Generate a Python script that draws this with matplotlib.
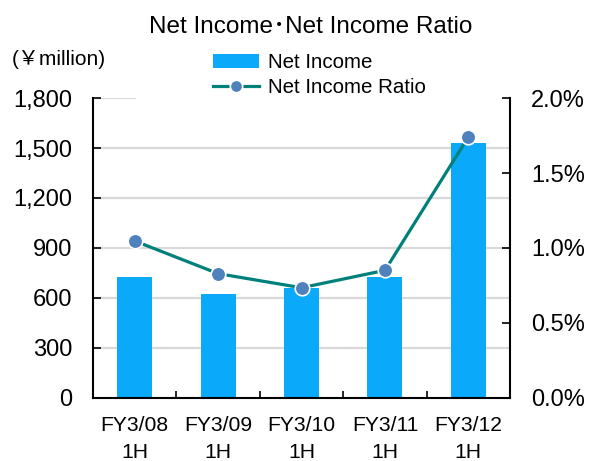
import matplotlib
matplotlib.use("Agg")
import matplotlib.pyplot as plt
from matplotlib.ticker import FuncFormatter, FixedLocator

plt.rcParams['font.family'] = ['Liberation Sans', 'Noto Sans CJK JP', 'DejaVu Sans']

periods = ["FY3/08\n1H", "FY3/09\n1H", "FY3/10\n1H", "FY3/11\n1H", "FY3/12\n1H"]
net_income = [728, 624, 662, 728, 1530]          # ¥ million
income_ratio = [1.047, 0.829, 0.735, 0.851, 1.74]  # %

bar_color = "#0BA9F9"
line_color = "#00807A"
marker_color = "#4F81BD"

fig = plt.figure(figsize=(5.89, 4.61), dpi=100)
ax1 = fig.add_axes([0.158, 0.1367, 0.708, 0.6507])
ax2 = ax1.twinx()

x = list(range(len(periods)))
bars = ax1.bar(x, net_income, width=0.42, color=bar_color, zorder=2, label="Net Income")
ax1.set_xlim(-0.5, len(periods) - 0.5)
ax1.set_ylim(0, 1800)
ax1.set_yticks(range(0, 1801, 300))
ax1.yaxis.set_major_formatter(FuncFormatter(lambda v, _: f"{int(v):,}"))
for v in range(300, 1800, 300):
    ax1.axhline(v, color="#D9D9D9", lw=1.6, zorder=1)
ax1.axhline(1800, xmin=0, xmax=0.1, color="#D9D9D9", lw=1.6, zorder=1)

ax1.set_xticks(x)
ax1.set_xticklabels(periods, fontsize=15.2, linespacing=1.55)
ax1.xaxis.set_minor_locator(FixedLocator([i - 0.5 for i in range(len(periods) + 1)]))
ax1.tick_params(axis="x", which="major", length=0, pad=13)
ax1.tick_params(axis="x", which="minor", direction="in", length=5, width=1.2)
ax1.tick_params(axis="y", direction="in", length=6, width=1.2, labelsize=17, pad=15)

line, = ax2.plot(x, income_ratio, color=line_color, lw=2.3, marker="o", markersize=10.5,
                 markerfacecolor=marker_color, markeredgecolor="white", markeredgewidth=1.2,
                 zorder=3, label="Net Income Ratio")
ax2.set_ylim(0, 2.0)
ax2.set_yticks([0, 0.5, 1.0, 1.5, 2.0])
ax2.yaxis.set_major_formatter(FuncFormatter(lambda v, _: f"{v:.1f}%"))
ax2.tick_params(axis="y", direction="in", length=6, width=1.2, labelsize=17, pad=15)

for ax in (ax1, ax2):
    ax.spines["top"].set_visible(False)
    for s in ("left", "right", "bottom"):
        ax.spines[s].set_linewidth(1.5)
ax1.spines["right"].set_visible(False)
ax2.spines["left"].set_visible(False)
ax2.spines["bottom"].set_visible(False)

fig.text(0.528, 0.928, "Net Income\uff65Net Income Ratio", ha="center", va="baseline", fontsize=17.5)
fig.text(0.02, 0.859, "(￥million)", ha="left", va="baseline", fontsize=15)

fig.legend(handles=[bars, line], loc="upper left", bbox_to_anchor=(0.362, 0.885),
           frameon=False, fontsize=14.8, handlelength=2.25, handletextpad=0.4,
           labelspacing=0.3, borderaxespad=0, borderpad=0, markerscale=0.85)

fig.savefig("out.png", dpi=100)
